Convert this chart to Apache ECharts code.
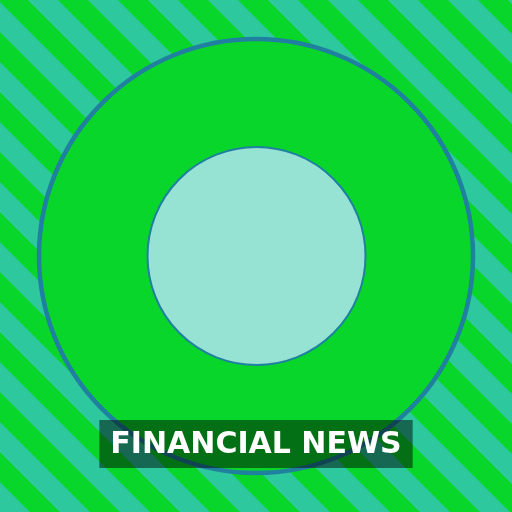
<!DOCTYPE html>
<html>
<head>
<meta charset="utf-8">
<script src="https://cdn.jsdelivr.net/npm/echarts@6/dist/echarts.min.js"></script>
<style>
  html, body { margin: 0; padding: 0; }
  #main { width: 512px; height: 512px; }
</style>
</head>
<body>
<div id="main"></div>
<script>
'use strict';

// badge content
const titleText = 'FINANCIAL NEWS';
const rings = ['outer', 'inner'];
const ringValues = [1, 1];

// diagonal stripe tile for the background (45deg, 60px period)
function stripeTile() {
  const size = 60;
  const c = document.createElement('canvas');
  c.width = size;
  c.height = size;
  const ctx = c.getContext('2d');
  const img = ctx.createImageData(size, size);
  const green = [8, 214, 42];
  const teal = [45, 200, 158];
  const ss = 4;
  for (let y = 0; y < size; y++) {
    for (let x = 0; x < size; x++) {
      let g = 0;
      for (let sy = 0; sy < ss; sy++) {
        for (let sx = 0; sx < ss; sx++) {
          const px = x + (sx + 0.5) / ss;
          const py = y + (sy + 0.5) / ss;
          const d = (((px - py + 2) % size) + size) % size;
          if (d < 30) g++;
        }
      }
      const t = g / (ss * ss);
      const i = (y * size + x) * 4;
      for (let ch = 0; ch < 3; ch++) {
        img.data[i + ch] = Math.round(green[ch] * t + teal[ch] * (1 - t));
      }
      img.data[i + 3] = 255;
    }
  }
  ctx.putImageData(img, 0, 0);
  return c;
}

const chart = echarts.init(document.getElementById('main'), null, { renderer: 'canvas' });

const option = {
  backgroundColor: { image: stripeTile(), repeat: 'repeat' },
  animation: false,
  title: {
    text: titleText,
    left: 'center',
    top: 420,
    padding: [10, 11, 8, 11],
    backgroundColor: 'rgba(0,0,0,0.48)',
    textStyle: {
      color: '#ffffff',
      fontFamily: 'DejaVu Sans',
      fontWeight: 'bold',
      fontSize: 30,
      lineHeight: 30
    }
  },
  series: [
    {
      type: 'pie',
      name: rings[0],
      center: [256, 256],
      radius: [0, 217],
      silent: true,
      label: { show: false },
      labelLine: { show: false },
      itemStyle: { color: '#08d62a', borderColor: '#2080a0', borderWidth: 4.5 },
      data: [{ name: rings[0], value: ringValues[0] }],
      z: 1
    },
    {
      type: 'pie',
      name: rings[1],
      center: [256.5, 256],
      radius: [0, 109],
      silent: true,
      label: { show: false },
      labelLine: { show: false },
      itemStyle: { color: '#96e3d4', borderColor: '#2080a0', borderWidth: 2 },
      data: [{ name: rings[1], value: ringValues[1] }],
      z: 2
    }
  ]
};

chart.setOption(option);
</script>
</body>
</html>
